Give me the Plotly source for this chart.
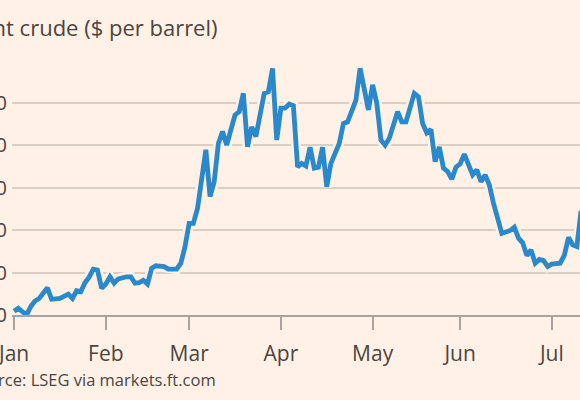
import plotly.graph_objects as go

# Brent crude, $ per barrel
dates = [
    "2026-01-01", "2026-01-02", "2026-01-06", "2026-01-07", "2026-01-08", "2026-01-09",
    "2026-01-13", "2026-01-14", "2026-01-16", "2026-01-20", "2026-01-21", "2026-01-22",
    "2026-01-23", "2026-01-26", "2026-01-27", "2026-01-28", "2026-01-29", "2026-01-30",
    "2026-02-02", "2026-02-03", "2026-02-04", "2026-02-05", "2026-02-09", "2026-02-10",
    "2026-02-11", "2026-02-12", "2026-02-13", "2026-02-16", "2026-02-17", "2026-02-18",
    "2026-02-20", "2026-02-23", "2026-02-25", "2026-02-26", "2026-02-27",
    "2026-03-02", "2026-03-03", "2026-03-04", "2026-03-06", "2026-03-09", "2026-03-10",
    "2026-03-11", "2026-03-12", "2026-03-13", "2026-03-16", "2026-03-17", "2026-03-18",
    "2026-03-19", "2026-03-20", "2026-03-23", "2026-03-24", "2026-03-25", "2026-03-26",
    "2026-03-27", "2026-03-30", "2026-03-31",
    "2026-04-01", "2026-04-02", "2026-04-03", "2026-04-06", "2026-04-07", "2026-04-08",
    "2026-04-09", "2026-04-10", "2026-04-13", "2026-04-14", "2026-04-15", "2026-04-16",
    "2026-04-17", "2026-04-21", "2026-04-22", "2026-04-23", "2026-04-27", "2026-04-28",
    "2026-04-30",
    "2026-05-01", "2026-05-04", "2026-05-05", "2026-05-06", "2026-05-07", "2026-05-11",
    "2026-05-12", "2026-05-13", "2026-05-15", "2026-05-18", "2026-05-19", "2026-05-20",
    "2026-05-21", "2026-05-22", "2026-05-25", "2026-05-26", "2026-05-27", "2026-05-28",
    "2026-05-29",
    "2026-06-01", "2026-06-02", "2026-06-03", "2026-06-04", "2026-06-05", "2026-06-08",
    "2026-06-09", "2026-06-10", "2026-06-11", "2026-06-15", "2026-06-17", "2026-06-18",
    "2026-06-19", "2026-06-22", "2026-06-23", "2026-06-24", "2026-06-25", "2026-06-26",
    "2026-06-29", "2026-06-30",
    "2026-07-01", "2026-07-02", "2026-07-03", "2026-07-06", "2026-07-07", "2026-07-08",
    "2026-07-09", "2026-07-10",
]
prices = [
    60.9, 61.6, 60.0, 62.0, 63.3, 63.9,
    66.4, 63.7, 63.9, 64.9, 63.9, 65.7,
    65.5, 67.6, 68.9, 70.8, 70.6, 66.3,
    67.3, 69.0, 67.5, 68.5, 69.0, 69.0,
    67.5, 67.6, 68.2, 67.3, 71.0, 71.6,
    71.4, 70.8, 70.8, 72.2, 76.1,
    81.6, 81.6, 85.1, 98.9, 87.9, 91.4,
    100.4, 103.2, 100.0, 103.6, 107.1, 107.9,
    112.2, 99.6, 104.3, 102.0, 107.5, 112.2,
    112.6, 118.1, 101.2,
    108.7, 108.7, 109.7, 109.3, 94.9, 95.7,
    95.1, 99.5, 94.6, 94.8, 99.5, 90.2,
    95.7, 100.4, 105.1, 105.5, 110.6, 118.1,
    108.3,
    114.2, 109.9, 101.2, 100.0, 101.6, 107.9,
    105.5, 105.5, 112.2, 111.4, 105.1, 102.9,
    103.7, 96.1, 99.6, 94.6, 93.8, 92.0,
    94.8,
    95.6, 97.9, 95.1, 93.0, 94.2, 91.4,
    93.0, 90.6, 86.3, 79.2, 79.9, 80.7,
    78.1, 77.0, 74.0, 75.3, 72.2, 73.1,
    72.8, 71.4,
    72.0, 72.2, 72.2, 74.1, 78.3, 76.5,
    76.1, 84.5,
]

# first trading day of each month
month_ticks = ["2026-01-01", "2026-02-02", "2026-03-02", "2026-04-01",
               "2026-05-01", "2026-06-01", "2026-07-01"]
month_labels = ["Jan", "Feb", "Mar", "Apr", "May", "Jun", "Jul"]
y_ticks = [60, 70, 80, 90, 100, 110]
y_labels = ["60", "70", "80", "90", "100", "110"]

title_text = "Brent crude ($ per barrel)"
source_text = "Source: LSEG via markets.ft.com"

BG = "#fff1e5"
TXT = "#4a4542"
LINE = "#2a88cc"
FONT = "Open Sans"

W, H = 580, 400
ML, MR, MT, MB = 12, 0, 55, 85
PW = W - ML - MR
PH = H - MT - MB

fig = go.Figure()
# halo under the line (background coloured), then the line itself
fig.add_trace(go.Scatter(x=dates, y=prices, mode="lines",
                         line=dict(color=BG, width=10), hoverinfo="skip",
                         showlegend=False))
fig.add_trace(go.Scatter(x=dates, y=prices, mode="lines",
                         line=dict(color=LINE, width=4.8), showlegend=False))

fig.update_layout(
    width=W, height=H,
    margin=dict(l=ML, r=MR, t=MT, b=MB, autoexpand=False),
    paper_bgcolor=BG, plot_bgcolor=BG,
    font=dict(family=FONT, color=TXT),
    showlegend=False,
    xaxis=dict(
        type="date", automargin=False,
        range=["2025-12-31 12:00", "2026-07-09 18:00"],
        rangebreaks=[dict(bounds=["sat", "mon"])],
        tickvals=month_ticks, ticktext=month_labels,
        ticks="outside", ticklen=13, tickwidth=2, tickcolor="#aaa39d",
        showline=True, linecolor="#aaa39d", linewidth=2,
        showgrid=False, zeroline=False,
        tickfont=dict(size=21, color=TXT, family=FONT),
        ticklabelstandoff=6, ticklabeloverflow="allow",
    ),
    yaxis=dict(
        automargin=False,
        range=[60, 60 + PH / 42.46 * 10],
        tickvals=y_ticks, ticktext=y_labels,
        showgrid=True, gridcolor="#dbcfc3", gridwidth=2,
        zeroline=False, showline=False, ticks="",
        tickfont=dict(size=20, color=TXT, family=FONT),
        ticklabelstandoff=4, ticklabeloverflow="allow",
    ),
)

def px_x(p):
    return (p - ML) / PW

def px_y(p):
    return (H - MB - p) / PH

fig.add_annotation(text=title_text, xref="paper", yref="paper",
                   x=px_x(220), y=px_y(27), xanchor="right", yanchor="middle",
                   showarrow=False, font=dict(size=22, color=TXT, family=FONT))
fig.add_annotation(text=source_text, xref="paper", yref="paper",
                   x=px_x(218), y=px_y(379), xanchor="right", yanchor="middle",
                   showarrow=False, font=dict(size=16.5, color=TXT, family=FONT))

fig.write_html("out.html")
